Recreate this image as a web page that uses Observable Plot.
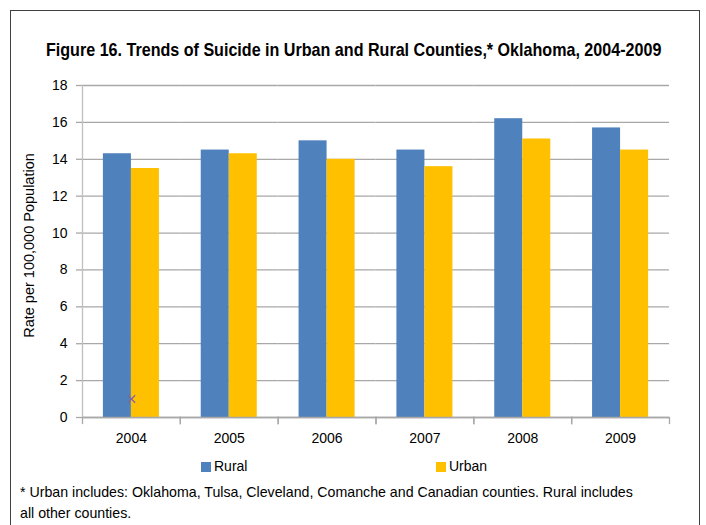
<!DOCTYPE html>
<html><head><meta charset="utf-8">
<script src="https://cdn.jsdelivr.net/npm/d3@7"></script>
<script src="https://cdn.jsdelivr.net/npm/@observablehq/plot@0.6"></script>
<style>
body{margin:0;background:#fff;}
#wrap{position:relative;width:706px;height:525px;overflow:hidden;background:#fff;font-family:"Liberation Sans",Arial,sans-serif;color:#000;}
#border{position:absolute;left:10px;top:10px;width:688px;height:540px;border:1px solid #404040;}
#title{position:absolute;left:0;width:706px;top:38px;text-align:center;font-weight:bold;font-size:18.5px;line-height:24px;white-space:nowrap;}
#title span{display:inline-block;transform:scaleX(0.87);transform-origin:center;}
#chart{position:absolute;left:0;top:70px;}
.leg{position:absolute;top:456px;font-size:14px;line-height:20px;white-space:nowrap;}
.sw{display:inline-block;width:10px;height:10px;margin-right:3px;vertical-align:-1px;}
#note{position:absolute;left:20px;top:482px;font-size:14.2px;line-height:21px;white-space:nowrap;}
</style></head>
<body>
<div id="wrap">
<div id="border"></div>
<div id="title"><span></span></div>
<div id="chart"></div>
<div id="legend"></div>
<div id="note"></div>
</div>
<script>
const titleText = "Figure 16. Trends of Suicide in Urban and Rural Counties,* Oklahoma, 2004-2009";
const yLabel = "Rate per 100,000 Population";
const noteLines = ["* Urban includes: Oklahoma, Tulsa, Cleveland, Comanche and Canadian counties. Rural includes", "all other counties."];
const years = ["2004","2005","2006","2007","2008","2009"];
const series = ["Rural","Urban"];
const rural = [14.3,14.5,15.0,14.5,16.2,15.7];
const urban = [13.5,14.3,14.0,13.6,15.1,14.5];
const colors = ["#4F81BD","#FFC000"];
const yTicks = [0,2,4,6,8,10,12,14,16,18];
const strayMarker = [{year:"2004", value:1.0}];

document.querySelector("#title span").textContent = titleText;
document.getElementById("note").innerHTML = noteLines.join("<br>");

const data = years.flatMap((y,i)=>[
  {year:y, series:"Rural", value:rural[i]},
  {year:y, series:"Urban", value:urban[i]}
]);

const W = 706, H = 380, mT = 15, mB = 33, mL = 82, mR = 37;
const innerH = H - mT - mB;
const font = '"Liberation Sans",Arial,sans-serif';
const gridColor = "#A8A8A8";

const chart = Plot.plot({
  width: W, height: H,
  marginTop: mT, marginBottom: mB, marginLeft: mL, marginRight: mR,
  style: {fontFamily: font, fontSize: "14px", color: "#000", background: "transparent"},
  fx: {domain: years, padding: 0, round: false, label: null},
  x: {domain: series, paddingInner: 0, paddingOuter: 0.746, round: false, axis: null},
  y: {domain: [0,18], label: null},
  color: {domain: series, range: colors},
  marks: [
    Plot.gridY(yTicks, {stroke: gridColor, strokeOpacity: 1, strokeWidth: 1.3}),
    Plot.barY(data, {fx: "year", x: "series", y: "value", fill: "series"}),
    Plot.dot(strayMarker, {fx: "year", y: "value", symbol: "times", r: 3.5, stroke: "#8064A2", strokeWidth: 1.3}),
    Plot.ruleY([0], {stroke: gridColor, strokeWidth: 1.3}),
    Plot.frame({anchor: "left", facetAnchor: "left", stroke: "#BFBFBF", strokeWidth: 1.3}),
    Plot.frame({anchor: "left", insetTop: innerH, insetBottom: -6, stroke: gridColor, strokeWidth: 1.3}),
    Plot.frame({anchor: "right", insetTop: innerH, insetBottom: -6, stroke: gridColor, strokeWidth: 1.3}),
    Plot.axisY(yTicks, {tickSize: 6, tickPadding: 9, label: null, stroke: gridColor, strokeWidth: 1.3, fill: "#000"}),
    Plot.axisFx({anchor: "bottom", tickSize: 0, tickPadding: 16, label: null, fill: "#000"}),
    Plot.text([yLabel], {facetAnchor: "left", frameAnchor: "left", textAnchor: "middle", rotate: -90, dx: -53, dy: -6, text: d => d, fontSize: 14.5, fill: "#000"})
  ]
});
document.getElementById("chart").appendChild(chart);

const legend = document.getElementById("legend");
const legX = [201, 436];
series.forEach((s,i)=>{
  const d = document.createElement("div");
  d.className = "leg";
  d.style.left = legX[i] + "px";
  d.innerHTML = `<span class="sw" style="background:${colors[i]}"></span>${s}`;
  legend.appendChild(d);
});
</script>
</body></html>
